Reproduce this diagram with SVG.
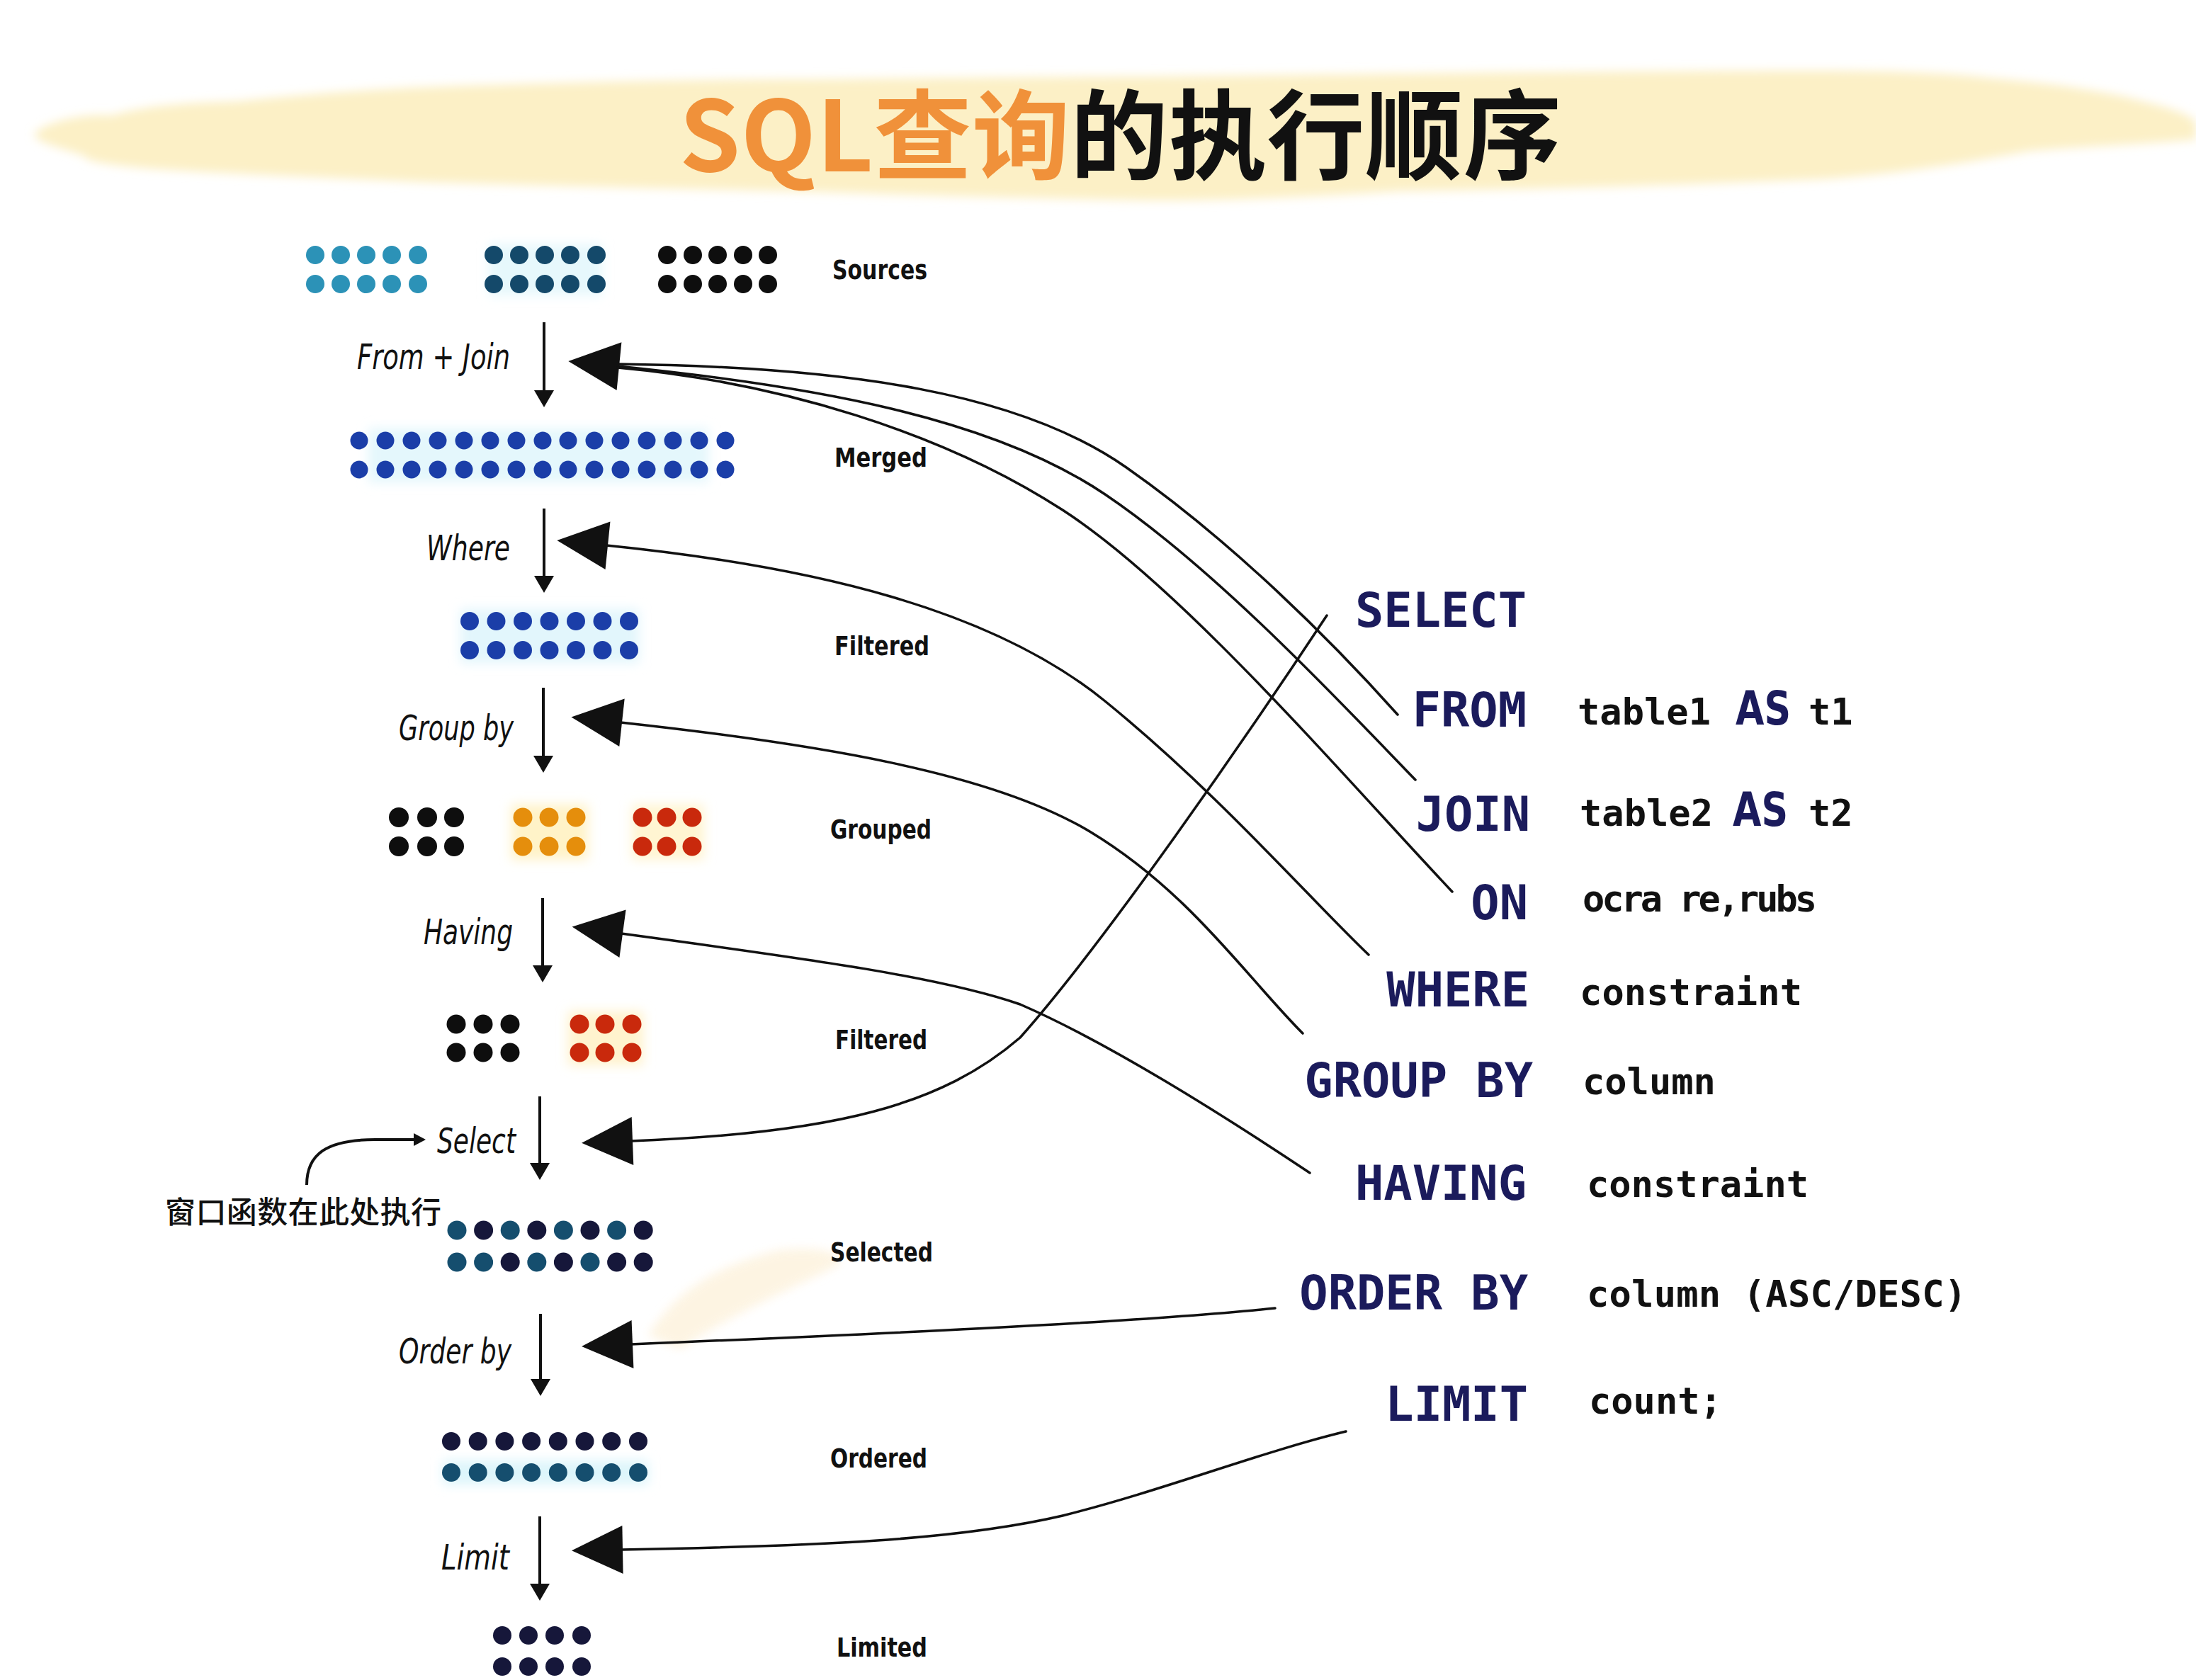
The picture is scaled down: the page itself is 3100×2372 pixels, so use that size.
<svg xmlns="http://www.w3.org/2000/svg" width="3100" height="2372" viewBox="0 0 3100 2372">
<style>
.hand{font-family:'DejaVu Sans',sans-serif;font-style:italic;font-size:50px;fill:#111;text-anchor:end}
.lbl{font-family:'DejaVu Sans Condensed','DejaVu Sans',sans-serif;font-size:38px;fill:#111;font-weight:bold}
.kw{font-family:'DejaVu Sans Mono',monospace;font-size:67px;fill:#1B1B5C;text-anchor:end;font-weight:bold}
.val{font-family:'DejaVu Sans Mono',monospace;font-size:52px;fill:#111;font-weight:bold}
.as{font-family:'DejaVu Sans',sans-serif;font-size:66px;fill:#1B1B5C;font-weight:bold}
.conn{fill:none;stroke:#111;stroke-width:3.5;stroke-linecap:round}
.flow{stroke:#111;stroke-width:4;fill:none}
.teal{fill:#2C92B7}.dteal{fill:#14496A}.blk{fill:#0E0E0E}.blue{fill:#1B3EA8}
.org{fill:#E58E0C}.red{fill:#C9290C}.navy{fill:#16173A}.sel{fill:#154E6E}
.halo{filter:url(#soft)}
</style>
<defs>
<filter id="soft" x="-20%" y="-50%" width="140%" height="200%"><feGaussianBlur stdDeviation="8"/></filter>
<filter id="blob" x="-5%" y="-30%" width="110%" height="160%"><feGaussianBlur stdDeviation="7"/></filter>
<marker id="bigHead" markerUnits="userSpaceOnUse" markerWidth="80" markerHeight="70" viewBox="0 0 80 70" refX="2" refY="34" orient="auto-start-reverse" overflow="visible"><path d="M0,0 L72,34 L0,68 Z" fill="#111"/></marker>
<marker id="smallHead" markerUnits="userSpaceOnUse" markerWidth="26" markerHeight="28" viewBox="0 0 26 28" refX="20" refY="14" orient="auto" overflow="visible"><path d="M0,0 L24,14 L0,28 Z" fill="#111"/></marker>
<marker id="tinyHead" markerUnits="userSpaceOnUse" markerWidth="18" markerHeight="18" viewBox="0 0 18 18" refX="12" refY="9" orient="auto" overflow="visible"><path d="M0,0 L17,9 L0,18 Z" fill="#111"/></marker>
</defs>
<rect width="3100" height="2372" fill="#FFFFFF"/>

<g id="title">
<path filter="url(#blob)" fill="#FCF0C6" d="M49,188 C70,170 120,160 158,163 C200,150 260,145 336,143 C480,128 600,122 692,120 C850,115 1000,112 1146,112 C1350,110 1500,108 1621,108 C1800,106 1950,104 2075,103 C2300,101 2450,100 2569,100 C2680,100 2760,104 2806,110 C2900,118 2980,130 3024,143 C3060,152 3090,160 3100,173 L3100,197 C3000,205 2930,208 2866,213 C2750,235 2650,248 2569,253 C2350,262 2150,268 1976,270 C1850,278 1720,284 1621,283 C1450,280 1300,276 1186,272 C950,266 750,262 593,257 C450,250 300,245 198,237 C150,232 120,228 119,220 C90,210 45,200 49,188 Z"/>
<text x="959" y="242" font-family="'Noto Sans CJK SC',sans-serif" font-weight="bold" font-size="138" textLength="1245"><tspan fill="#F0913A">SQL查询</tspan><tspan fill="#111111">的执行顺序</tspan></text>
</g>

<path filter="url(#blob)" fill="#FDF2DC" opacity="0.8" d="M915,1885 C950,1830 1000,1790 1100,1765 C1150,1760 1190,1765 1185,1785 C1140,1810 1040,1850 960,1905 Z"/>

<g id="stage-sources">
<rect class="halo" x="690" y="345" width="160" height="72" fill="#E6F8FC"/>
<g class="teal"><circle cx="445" cy="360" r="13"/><circle cx="481" cy="360" r="13"/><circle cx="517" cy="360" r="13"/><circle cx="553" cy="360" r="13"/><circle cx="590" cy="360" r="13"/><circle cx="445" cy="401" r="13"/><circle cx="481" cy="401" r="13"/><circle cx="517" cy="401" r="13"/><circle cx="553" cy="401" r="13"/><circle cx="590" cy="401" r="13"/></g>
<g class="dteal"><circle cx="697" cy="360" r="13"/><circle cx="733" cy="360" r="13"/><circle cx="769" cy="360" r="13"/><circle cx="805" cy="360" r="13"/><circle cx="842" cy="360" r="13"/><circle cx="697" cy="401" r="13"/><circle cx="733" cy="401" r="13"/><circle cx="769" cy="401" r="13"/><circle cx="805" cy="401" r="13"/><circle cx="842" cy="401" r="13"/></g>
<g class="blk"><circle cx="942" cy="360" r="13"/><circle cx="978" cy="360" r="13"/><circle cx="1013" cy="360" r="13"/><circle cx="1049" cy="360" r="13"/><circle cx="1084" cy="360" r="13"/><circle cx="942" cy="401" r="13"/><circle cx="978" cy="401" r="13"/><circle cx="1013" cy="401" r="13"/><circle cx="1049" cy="401" r="13"/><circle cx="1084" cy="401" r="13"/></g>
<text class="lbl" x="1175" y="394" textLength="134" lengthAdjust="spacingAndGlyphs">Sources</text>
</g>

<g id="step-from-join">
<text class="hand" x="720" y="521" textLength="216" lengthAdjust="spacingAndGlyphs">From + Join</text>
<line class="flow" x1="768" y1="455" x2="768" y2="571" marker-end="url(#smallHead)"/>
</g>

<g id="stage-merged">
<rect class="halo" x="520" y="605" width="480" height="76" fill="#E4F7FC"/>
<g class="blue"><circle cx="507" cy="622" r="12.5"/><circle cx="544" cy="622" r="12.5"/><circle cx="581" cy="622" r="12.5"/><circle cx="618" cy="622" r="12.5"/><circle cx="655" cy="622" r="12.5"/><circle cx="692" cy="622" r="12.5"/><circle cx="729" cy="622" r="12.5"/><circle cx="766" cy="622" r="12.5"/><circle cx="802" cy="622" r="12.5"/><circle cx="839" cy="622" r="12.5"/><circle cx="876" cy="622" r="12.5"/><circle cx="913" cy="622" r="12.5"/><circle cx="950" cy="622" r="12.5"/><circle cx="987" cy="622" r="12.5"/><circle cx="1024" cy="622" r="12.5"/>
<circle cx="507" cy="663" r="12.5"/><circle cx="544" cy="663" r="12.5"/><circle cx="581" cy="663" r="12.5"/><circle cx="618" cy="663" r="12.5"/><circle cx="655" cy="663" r="12.5"/><circle cx="692" cy="663" r="12.5"/><circle cx="729" cy="663" r="12.5"/><circle cx="766" cy="663" r="12.5"/><circle cx="802" cy="663" r="12.5"/><circle cx="839" cy="663" r="12.5"/><circle cx="876" cy="663" r="12.5"/><circle cx="913" cy="663" r="12.5"/><circle cx="950" cy="663" r="12.5"/><circle cx="987" cy="663" r="12.5"/><circle cx="1024" cy="663" r="12.5"/></g>
<text class="lbl" x="1178" y="659" textLength="131" lengthAdjust="spacingAndGlyphs">Merged</text>
</g>

<g id="step-where">
<text class="hand" x="720" y="791" textLength="118" lengthAdjust="spacingAndGlyphs">Where</text>
<line class="flow" x1="768" y1="718" x2="768" y2="833" marker-end="url(#smallHead)"/>
</g>

<g id="stage-filtered">
<rect class="halo" x="650" y="860" width="252" height="76" fill="#E2F6FC"/>
<g class="blue"><circle cx="663" cy="877" r="13"/><circle cx="700.5" cy="877" r="13"/><circle cx="738" cy="877" r="13"/><circle cx="775.5" cy="877" r="13"/><circle cx="813" cy="877" r="13"/><circle cx="850.5" cy="877" r="13"/><circle cx="888" cy="877" r="13"/>
<circle cx="663" cy="918" r="13"/><circle cx="700.5" cy="918" r="13"/><circle cx="738" cy="918" r="13"/><circle cx="775.5" cy="918" r="13"/><circle cx="813" cy="918" r="13"/><circle cx="850.5" cy="918" r="13"/><circle cx="888" cy="918" r="13"/></g>
<text class="lbl" x="1178" y="925" textLength="134" lengthAdjust="spacingAndGlyphs">Filtered</text>
</g>

<g id="step-group-by">
<text class="hand" x="725" y="1045" textLength="162" lengthAdjust="spacingAndGlyphs">Group by</text>
<line class="flow" x1="767" y1="971" x2="767" y2="1087" marker-end="url(#smallHead)"/>
</g>

<g id="stage-grouped">
<rect class="halo" x="722" y="1136" width="108" height="78" fill="#FFF3C8"/>
<rect class="halo" x="892" y="1136" width="102" height="78" fill="#FFF5D2"/>
<g class="blk"><circle cx="563" cy="1154" r="14"/><circle cx="603" cy="1154" r="14"/><circle cx="641" cy="1154" r="14"/><circle cx="563" cy="1195" r="14"/><circle cx="603" cy="1195" r="14"/><circle cx="641" cy="1195" r="14"/></g>
<g class="org"><circle cx="738" cy="1154" r="13.5"/><circle cx="775" cy="1154" r="13.5"/><circle cx="813" cy="1154" r="13.5"/><circle cx="738" cy="1195" r="13.5"/><circle cx="775" cy="1195" r="13.5"/><circle cx="813" cy="1195" r="13.5"/></g>
<g class="red"><circle cx="907" cy="1154" r="13.5"/><circle cx="941" cy="1154" r="13.5"/><circle cx="977" cy="1154" r="13.5"/><circle cx="907" cy="1195" r="13.5"/><circle cx="941" cy="1195" r="13.5"/><circle cx="977" cy="1195" r="13.5"/></g>
<text class="lbl" x="1172" y="1184" textLength="143" lengthAdjust="spacingAndGlyphs">Grouped</text>
</g>

<g id="step-having">
<text class="hand" x="724" y="1333" textLength="126" lengthAdjust="spacingAndGlyphs">Having</text>
<line class="flow" x1="766" y1="1268" x2="766" y2="1383" marker-end="url(#smallHead)"/>
</g>

<g id="stage-filtered-2">
<rect class="halo" x="802" y="1428" width="106" height="76" fill="#FFF3CE"/>
<g class="blk"><circle cx="644" cy="1446" r="13.5"/><circle cx="682" cy="1446" r="13.5"/><circle cx="720" cy="1446" r="13.5"/><circle cx="644" cy="1486" r="13.5"/><circle cx="682" cy="1486" r="13.5"/><circle cx="720" cy="1486" r="13.5"/></g>
<g class="red"><circle cx="818" cy="1446" r="13.5"/><circle cx="854" cy="1446" r="13.5"/><circle cx="892" cy="1446" r="13.5"/><circle cx="818" cy="1486" r="13.5"/><circle cx="854" cy="1486" r="13.5"/><circle cx="892" cy="1486" r="13.5"/></g>
<text class="lbl" x="1179" y="1481" textLength="130" lengthAdjust="spacingAndGlyphs">Filtered</text>
</g>

<g id="step-select">
<text class="hand" x="728" y="1628" textLength="111" lengthAdjust="spacingAndGlyphs">Select</text>
<line class="flow" x1="762" y1="1548" x2="762" y2="1662" marker-end="url(#smallHead)"/>
</g>

<g id="note-window">
<path class="flow" d="M433,1673 C433,1630 460,1609 530,1609 L596,1609" marker-end="url(#tinyHead)"/>
<text x="233" y="1727" font-family="'Noto Sans CJK SC',sans-serif" font-weight="500" font-size="43" fill="#111" textLength="390">窗口函数在此处执行</text>
</g>

<g id="stage-selected">
<g class="sel"><circle cx="645" cy="1737" r="13.5"/><circle cx="720.2" cy="1737" r="13.5"/><circle cx="795.4" cy="1737" r="13.5"/><circle cx="870.6" cy="1737" r="13.5"/><circle cx="645" cy="1782" r="13.5"/><circle cx="682.6" cy="1782" r="13.5"/><circle cx="757.8" cy="1782" r="13.5"/><circle cx="833" cy="1782" r="13.5"/></g>
<g class="navy"><circle cx="682.6" cy="1737" r="13.5"/><circle cx="757.8" cy="1737" r="13.5"/><circle cx="833" cy="1737" r="13.5"/><circle cx="908.2" cy="1737" r="13.5"/><circle cx="720.2" cy="1782" r="13.5"/><circle cx="795.4" cy="1782" r="13.5"/><circle cx="870.6" cy="1782" r="13.5"/><circle cx="908.2" cy="1782" r="13.5"/></g>
<text class="lbl" x="1172" y="1781" textLength="145" lengthAdjust="spacingAndGlyphs">Selected</text>
</g>

<g id="step-order-by">
<text class="hand" x="722" y="1925" textLength="159" lengthAdjust="spacingAndGlyphs">Order by</text>
<line class="flow" x1="763" y1="1855" x2="763" y2="1967" marker-end="url(#smallHead)"/>
</g>

<g id="stage-ordered">
<rect class="halo" x="625" y="2062" width="290" height="34" fill="#DDF5FB"/>
<g class="navy"><circle cx="637" cy="2035" r="13"/><circle cx="674.7" cy="2035" r="13"/><circle cx="712.4" cy="2035" r="13"/><circle cx="750.1" cy="2035" r="13"/><circle cx="787.8" cy="2035" r="13"/><circle cx="825.5" cy="2035" r="13"/><circle cx="863.2" cy="2035" r="13"/><circle cx="901" cy="2035" r="13"/></g>
<g class="sel"><circle cx="637" cy="2079" r="13"/><circle cx="674.7" cy="2079" r="13"/><circle cx="712.4" cy="2079" r="13"/><circle cx="750.1" cy="2079" r="13"/><circle cx="787.8" cy="2079" r="13"/><circle cx="825.5" cy="2079" r="13"/><circle cx="863.2" cy="2079" r="13"/><circle cx="901" cy="2079" r="13"/></g>
<text class="lbl" x="1172" y="2072" textLength="137" lengthAdjust="spacingAndGlyphs">Ordered</text>
</g>

<g id="step-limit">
<text class="hand" x="719" y="2216" textLength="96" lengthAdjust="spacingAndGlyphs">Limit</text>
<line class="flow" x1="762" y1="2141" x2="762" y2="2256" marker-end="url(#smallHead)"/>
</g>

<g id="stage-limited">
<g class="navy"><circle cx="709" cy="2309" r="13"/><circle cx="746" cy="2309" r="13"/><circle cx="783" cy="2309" r="13"/><circle cx="821" cy="2309" r="13"/><circle cx="709" cy="2353" r="13"/><circle cx="746" cy="2353" r="13"/><circle cx="783" cy="2353" r="13"/><circle cx="821" cy="2353" r="13"/></g>
<text class="lbl" x="1181" y="2339" textLength="128" lengthAdjust="spacingAndGlyphs">Limited</text>
</g>

<g id="sql-select"><text class="kw" x="2155" y="885">SELECT</text></g>
<g id="sql-from"><text class="kw" x="2155" y="1026">FROM</text><text class="val" x="2227" y="1023" textLength="188">table1</text><text class="as" x="2450" y="1023" textLength="78" lengthAdjust="spacingAndGlyphs">AS</text><text class="val" x="2553" y="1023">t1</text></g>
<g id="sql-join"><text class="kw" x="2160" y="1173">JOIN</text><text class="val" x="2230" y="1166" textLength="188">table2</text><text class="as" x="2446" y="1166" textLength="78" lengthAdjust="spacingAndGlyphs">AS</text><text class="val" x="2553" y="1166">t2</text></g>
<g id="sql-on"><text class="kw" x="2157" y="1298">ON</text><text class="val" x="2234" y="1287" textLength="331">ocra re,rubs</text></g>
<g id="sql-where"><text class="kw" x="2159" y="1421">WHERE</text><text class="val" x="2230" y="1419" textLength="314">constraint</text></g>
<g id="sql-group-by"><text class="kw" x="2164" y="1549">GROUP BY</text><text class="val" x="2234" y="1545">column</text></g>
<g id="sql-having"><text class="kw" x="2155" y="1694">HAVING</text><text class="val" x="2240" y="1690" textLength="313">constraint</text></g>
<g id="sql-order-by"><text class="kw" x="2157" y="1849">ORDER BY</text><text class="val" x="2240" y="1845" textLength="536">column (ASC/DESC)</text></g>
<g id="sql-limit"><text class="kw" x="2157" y="2006">LIMIT</text><text class="val" x="2243" y="1996">count;</text></g>

<g id="connectors">
<path class="conn" d="M872,514 C1200,518 1440,555 1590,660 S1880,905 1973,1009"/>
<path class="conn" d="M872,517 C1150,545 1400,590 1560,698 S1900,1000 1998,1101" marker-start="url(#bigHead)"/>
<path class="conn" d="M872,519 C1100,540 1330,610 1500,720 S1900,1100 2050,1259"/>
<path class="conn" d="M856,770 C1150,800 1400,860 1560,990 S1850,1270 1932,1348" marker-start="url(#bigHead)"/>
<path class="conn" d="M876,1020 C1150,1050 1400,1090 1540,1175 S1760,1380 1839,1459" marker-start="url(#bigHead)"/>
<path class="conn" d="M877,1318 C1150,1355 1330,1380 1440,1418 C1560,1470 1720,1570 1849,1656" marker-start="url(#bigHead)"/>
<path class="conn" d="M891,1611 C1180,1600 1330,1560 1440,1465 C1560,1330 1760,1040 1873,869" marker-start="url(#bigHead)"/>
<path class="conn" d="M891,1898 C1200,1885 1600,1868 1800,1847" marker-start="url(#bigHead)"/>
<path class="conn" d="M877,2188 C1150,2183 1350,2175 1500,2140 C1640,2105 1780,2050 1900,2021" marker-start="url(#bigHead)"/>
</g>
</svg>
